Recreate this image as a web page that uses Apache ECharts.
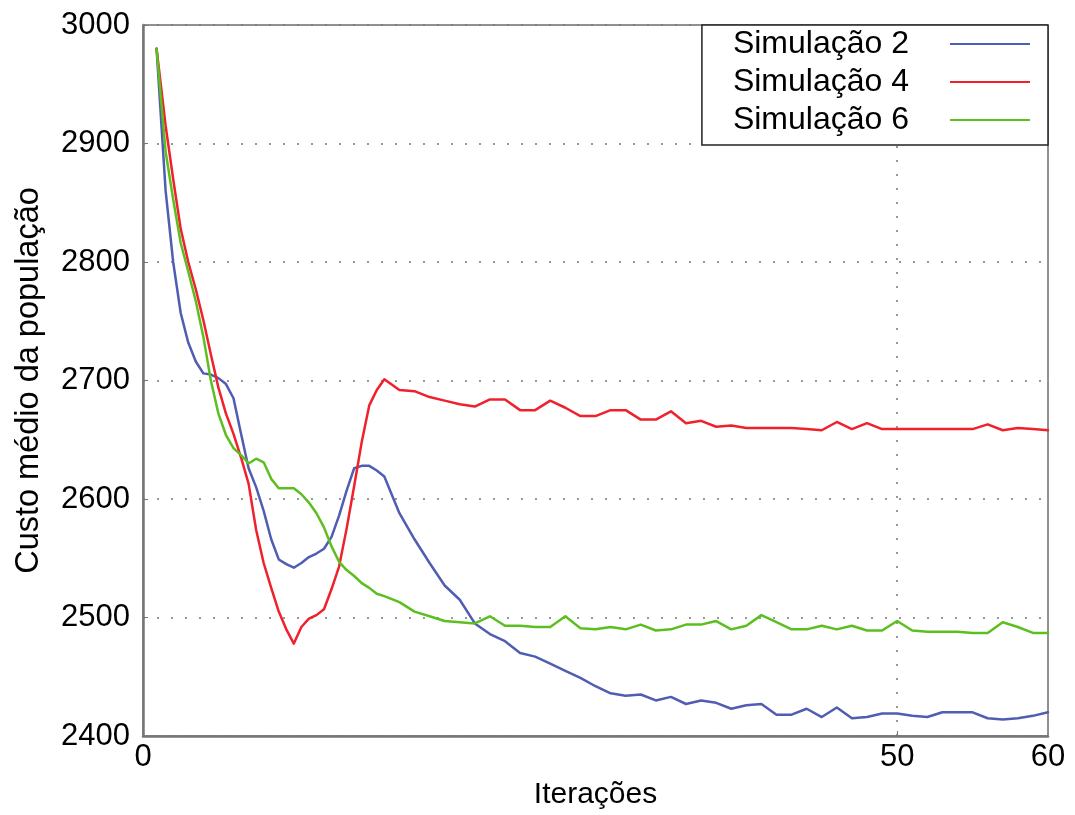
<!DOCTYPE html>
<html>
<head>
<meta charset="utf-8">
<script src="https://cdn.jsdelivr.net/npm/echarts@6/dist/echarts.min.js"></script>
<style>
html,body{margin:0;padding:0;background:#fff;}
#chart{width:1075px;height:815px;}
</style>
</head>
<body>
<div id="chart"></div>
<script>
const iteracoes = [0.9,1.5,2,2.5,3,3.5,4,4.5,5,5.5,6,6.5,7,7.5,8,8.5,9,9.5,10,10.5,11,11.5,12,12.5,13,13.5,14,14.5,15,15.5,16,
  17,18,19,20,21,22,23,24,25,26,27,28,29,30,31,32,33,34,35,36,37,38,39,40,41,42,43,44,45,46,47,48,49,50,51,52,53,54,55,56,57,58,59,60];

const simulacao2 = [2980,2860,2800,2757,2732,2716,2706,2705,2702,2697,2685,2655,2626,2610,2590,2566,2549,2545,2542,2546,2551,2554,2558,2568,2586,2607,2626,2628,2628,2624,2619,
  2588,2566,2546,2527,2515,2495,2486,2480,2470,2467,2461,2455,2449,2442,2436,2434,2435,2430,2433,2427,2430,2428,2423,2426,2427,2418,2418,2423,2416,2424,2415,2416,2419,2419,2417,2416,2420,2420,2420,2415,2414,2415,2417,2420];

const simulacao4 = [2980,2915,2870,2828,2800,2777,2751,2722,2694,2672,2655,2635,2613,2574,2546,2525,2505,2490,2478,2492,2499,2502,2507,2524,2543,2575,2611,2648,2679,2692,2701,
  2692,2691,2686,2683,2680,2678,2684,2684,2675,2675,2683,2677,2670,2670,2675,2675,2667,2667,2674,2664,2666,2661,2662,2660,2660,2660,2660,2659,2658,2665,2659,2664,2659,2659,2659,2659,2659,2659,2659,2663,2658,2660,2659,2658];

const simulacao6 = [2980,2893,2853,2816,2792,2767,2737,2700,2672,2654,2643,2637,2630,2634,2631,2617,2609,2609,2609,2604,2597,2588,2576,2560,2547,2540,2535,2529,2525,2520,2518,
  2513,2505,2501,2497,2496,2495,2501,2493,2493,2492,2492,2501,2491,2490,2492,2490,2494,2489,2490,2494,2494,2497,2490,2493,2502,2496,2490,2490,2493,2490,2493,2489,2489,2497,2489,2488,2488,2488,2487,2487,2496,2492,2487,2487];

const seriesNames = ['Simulação 2','Simulação 4','Simulação 6'];
const seriesColors = ['#4f5db3','#f0202c','#5cbf1f'];
const seriesValues = [simulacao2, simulacao4, simulacao6];
const xLabelValues = [0, 50, 60];
const xGridValues = [50];

const chart = echarts.init(document.getElementById('chart'), null, {renderer:'canvas'});
const FONT = '"Liberation Sans", Arial, sans-serif';
const dotted = {type:[2,12], color:'#777', width:1.5};

const series = seriesValues.map((vals, k) => {
  const s = {
    name: seriesNames[k],
    type: 'line',
    symbol: 'none',
    smooth: false,
    data: iteracoes.map((x, i) => [x, vals[i]]),
    lineStyle: {color: seriesColors[k], width: 2.5, join: 'round', cap: 'round'},
    itemStyle: {color: seriesColors[k]},
    z: 3 + k
  };
  if (k === 0) {
    s.markLine = {
      silent: true,
      symbol: ['none','none'],
      label: {show:false},
      lineStyle: dotted,
      z: 1,
      data: xGridValues.map(v => ({xAxis: v}))
    };
  }
  return s;
});

chart.setOption({
  animation: false,
  backgroundColor: '#fff',
  textStyle: {fontFamily: FONT},
  grid: {left:143, top:25, width:905, height:714, show:true, borderColor:'#222', borderWidth:1},
  legend: {
    orient: 'vertical',
    right: 27, top: 25,
    align: 'right',
    icon: 'rect',
    itemWidth: 80, itemHeight: 2,
    itemGap: 6,
    padding: [3, 18, 9, 31],
    backgroundColor: '#fff',
    borderColor: '#222', borderWidth: 1.5,
    textStyle: {fontSize: 32, color:'#000', fontFamily: FONT, padding:[0,36,0,0], lineHeight: 31},
    data: seriesNames
  },
  xAxis: {
    type: 'value', min: 0, max: 60, interval: 10,
    name: 'Iterações', nameLocation: 'middle', nameGap: 44,
    nameTextStyle: {fontSize: 30, color:'#000', fontFamily: FONT},
    axisLine: {show:true, onZero:false, lineStyle:{color:'#777', width:2.5}},
    axisTick: {show:true, inside:true, length:5, customValues: xGridValues, lineStyle:{color:'#777'}},
    axisLabel: {fontSize: 31, color:'#000', margin: 6, customValues: xLabelValues, fontFamily: FONT,
      formatter: v => String(v)},
    splitLine: {show:false}
  },
  yAxis: {
    type: 'value', min: 2400, max: 3000, interval: 100,
    name: 'Custo médio da população', nameLocation: 'middle', nameGap: 97, nameRotate: 90,
    nameTextStyle: {fontSize: 32.5, color:'#000', fontFamily: FONT},
    axisLine: {show:true, lineStyle:{color:'#777', width:2.5}},
    axisTick: {show:true, inside:true, length:5, lineStyle:{color:'#777'}},
    axisLabel: {fontSize: 31, color:'#000', margin: 13, fontFamily: FONT,
      formatter: v => String(v)},
    splitLine: {show:true, lineStyle: dotted}
  },
  series: series
});
</script>
</body>
</html>
